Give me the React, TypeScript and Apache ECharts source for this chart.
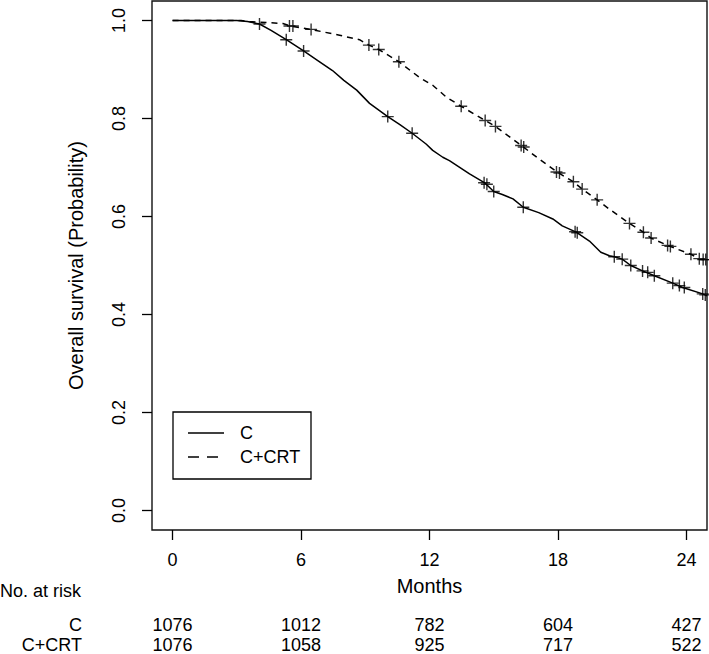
import React, { useEffect, useRef } from "react";
import * as echarts from "echarts";

const FONT = '"Liberation Sans", Arial, Helvetica, sans-serif';

const monthTicks = [0, 6, 12, 18, 24];
const survTicks = [0, 0.2, 0.4, 0.6, 0.8, 1.0];
const groupNames = ["C", "C+CRT"];
const riskC = [1076, 1012, 782, 604, 427];
const riskCRT = [1076, 1058, 925, 717, 522];

// Kaplan-Meier curve C
const cTimes = [0, 3.0, 3.5, 4.06, 4.6, 5.31, 6.12, 6.8, 7.47, 8.0, 8.6, 9.2, 10.05, 10.6, 11.19, 11.84, 12.15, 12.62, 12.93, 13.87, 14.6, 15.0, 15.4, 15.9, 16.38, 17.1, 17.76, 18.2, 18.85, 19.47, 20.0, 20.4, 20.63, 21.0, 21.4, 21.95, 22.5, 23.36, 23.82, 24.76, 24.96];
const cSurv = [1, 1, 0.998, 0.993, 0.98, 0.961, 0.938, 0.918, 0.898, 0.878, 0.858, 0.831, 0.804, 0.788, 0.770, 0.748, 0.735, 0.721, 0.714, 0.687, 0.668, 0.651, 0.645, 0.636, 0.619, 0.608, 0.595, 0.581, 0.568, 0.550, 0.527, 0.520, 0.518, 0.513, 0.500, 0.489, 0.479, 0.464, 0.455, 0.442, 0.438];

// Kaplan-Meier curve C+CRT
const crtTimes = [0, 3.2, 3.6, 5.15, 5.5, 6.47, 7.8, 8.73, 9.17, 9.63, 10.57, 11.53, 12.15, 12.78, 13.48, 14.6, 15.08, 16.35, 17.13, 17.99, 18.72, 19.13, 19.83, 20.4, 21.34, 21.99, 22.35, 23.17, 24.21, 24.6, 24.96];
const crtSurv = [1, 1, 0.998, 0.994, 0.989, 0.982, 0.970, 0.961, 0.950, 0.941, 0.916, 0.884, 0.868, 0.844, 0.825, 0.796, 0.784, 0.743, 0.717, 0.690, 0.671, 0.656, 0.634, 0.615, 0.586, 0.568, 0.556, 0.540, 0.523, 0.513, 0.511];

// censor marks
const cCensorTimes = [4.06, 5.31, 6.12, 10.05, 11.19, 14.55, 14.68, 15.0, 16.38, 18.8, 18.9, 20.63, 21.0, 21.4, 21.95, 22.19, 22.5, 23.36, 23.67, 23.9, 24.76, 24.88];
const cCensorSurv = [0.993, 0.961, 0.938, 0.804, 0.770, 0.669, 0.666, 0.651, 0.619, 0.569, 0.567, 0.518, 0.513, 0.500, 0.489, 0.486, 0.479, 0.464, 0.459, 0.455, 0.442, 0.440];
const crtCensorTimes = [5.46, 5.62, 6.47, 9.17, 9.63, 10.57, 13.48, 14.6, 15.08, 16.28, 16.4, 17.93, 18.07, 18.72, 19.13, 19.83, 21.34, 21.99, 22.35, 23.12, 23.25, 24.21, 24.6, 24.78, 24.9];
const crtCensorSurv = [0.989, 0.989, 0.982, 0.950, 0.941, 0.916, 0.825, 0.796, 0.784, 0.745, 0.742, 0.691, 0.689, 0.671, 0.656, 0.634, 0.586, 0.568, 0.556, 0.541, 0.539, 0.523, 0.514, 0.512, 0.512];

const X_MIN = -0.96;
const X_MAX = 24.96;
const Y_MIN = -0.04;
const Y_MAX = 1.04;

const zip = (a: number[], b: number[]) => a.map((t, i) => [t, b[i]]);
const PLUS = "path://M0,-5L0,5M-5,0L5,0";

export default function App() {
  const ref = useRef<HTMLDivElement>(null);
  useEffect(() => {
    if (!ref.current) return;
    const chart = echarts.init(ref.current, undefined, { renderer: "svg" });
    const txt = { color: "#000", fontFamily: FONT, fontSize: 18 };
    const nameTxt = { color: "#000", fontFamily: FONT, fontSize: 20 };
    const riskAxis = (offset: number, vals: number[]) => ({
      type: "value",
      gridIndex: 0,
      position: "bottom",
      offset,
      min: X_MIN,
      max: X_MAX,
      axisLine: { show: false, onZero: false },
      axisTick: { show: false },
      splitLine: { show: false },
      axisLabel: {
        ...txt,
        margin: 0,
        customValues: monthTicks,
        formatter: (v: number) => String(vals[monthTicks.indexOf(Math.round(v))]),
      },
    });
    chart.setOption({
      animation: false,
      backgroundColor: "#fff",
      grid: {
        left: 152,
        top: 1,
        width: 555,
        height: 529,
        show: true,
        borderColor: "#111",
        borderWidth: 1.4,
        backgroundColor: "transparent",
      },
      xAxis: [
        {
          type: "value",
          min: X_MIN,
          max: X_MAX,
          name: "Months",
          nameLocation: "middle",
          nameGap: 46,
          nameTextStyle: { ...nameTxt },
          axisLine: { show: false, onZero: false },
          splitLine: { show: false },
          axisTick: {
            show: true,
            inside: false,
            length: 10,
            customValues: monthTicks,
            lineStyle: { color: "#000", width: 1.3 },
          },
          axisLabel: {
            ...txt,
            margin: 21,
            customValues: monthTicks,
            formatter: (v: number) => String(v),
          },
        },
        riskAxis(86, riskC),
        riskAxis(106, riskCRT),
      ],
      yAxis: {
        type: "value",
        min: Y_MIN,
        max: Y_MAX,
        name: "Overall survival (Probability)",
        nameLocation: "middle",
        nameRotate: 90,
        nameGap: 66,
        nameTextStyle: { ...nameTxt },
        axisLine: { show: false, onZero: false },
        splitLine: { show: false },
        axisTick: {
          show: true,
          inside: false,
          length: 10,
          customValues: survTicks,
          lineStyle: { color: "#000", width: 1.3 },
        },
        axisLabel: {
          ...txt,
          rotate: 90,
          margin: 24,
          customValues: survTicks,
          formatter: (v: number) => v.toFixed(1),
        },
      },
      series: [
        {
          name: groupNames[0],
          type: "line",
          data: zip(cTimes, cSurv),
          showSymbol: false,
          symbol: "none",
          lineStyle: { color: "#000", width: 1.5, type: "solid" },
          z: 3,
        },
        {
          name: groupNames[1],
          type: "line",
          data: zip(crtTimes, crtSurv),
          showSymbol: false,
          symbol: "none",
          lineStyle: { color: "#000", width: 1.5, type: [6, 5] },
          z: 3,
        },
        {
          name: groupNames[0] + " censored",
          type: "scatter",
          data: zip(cCensorTimes, cCensorSurv),
          symbol: PLUS,
          symbolSize: 12,
          itemStyle: { color: "none", borderColor: "#000", borderWidth: 1.4 },
          z: 4,
        },
        {
          name: groupNames[1] + " censored",
          type: "scatter",
          data: zip(crtCensorTimes, crtCensorSurv),
          symbol: PLUS,
          symbolSize: 12,
          itemStyle: { color: "none", borderColor: "#000", borderWidth: 1.4 },
          z: 4,
        },
      ],
      graphic: [
        {
          type: "rect",
          shape: { x: 173, y: 412, width: 138, height: 67 },
          style: { fill: "#fff", stroke: "#000", lineWidth: 1.3 },
          z: 10,
        },
        {
          type: "line",
          shape: { x1: 188, y1: 433, x2: 224, y2: 433 },
          style: { stroke: "#000", lineWidth: 1.6 },
          z: 11,
        },
        {
          type: "line",
          shape: { x1: 188, y1: 457, x2: 224, y2: 457 },
          style: { stroke: "#000", lineWidth: 1.6, lineDash: [11, 8] },
          z: 11,
        },
        {
          type: "text",
          x: 240,
          y: 433,
          style: { text: groupNames[0], fill: "#000", fontSize: 18, fontFamily: FONT, verticalAlign: "middle", align: "left" },
          z: 11,
        },
        {
          type: "text",
          x: 240,
          y: 457,
          style: { text: groupNames[1], fill: "#000", fontSize: 18, fontFamily: FONT, verticalAlign: "middle", align: "left" },
          z: 11,
        },
        {
          type: "text",
          x: 0,
          y: 591,
          style: { text: "No. at risk", fill: "#000", fontSize: 18, fontFamily: FONT, verticalAlign: "middle", align: "left" },
        },
        {
          type: "text",
          x: 82,
          y: 625,
          style: { text: groupNames[0], fill: "#000", fontSize: 18, fontFamily: FONT, verticalAlign: "middle", align: "right" },
        },
        {
          type: "text",
          x: 82,
          y: 645,
          style: { text: groupNames[1], fill: "#000", fontSize: 18, fontFamily: FONT, verticalAlign: "middle", align: "right" },
        },
      ],
    });
    return () => chart.dispose();
  }, []);
  return (
    <div
      ref={ref}
      style={{ position: "fixed", left: 0, top: 0, width: 709, height: 654, background: "#fff" }}
    />
  );
}
